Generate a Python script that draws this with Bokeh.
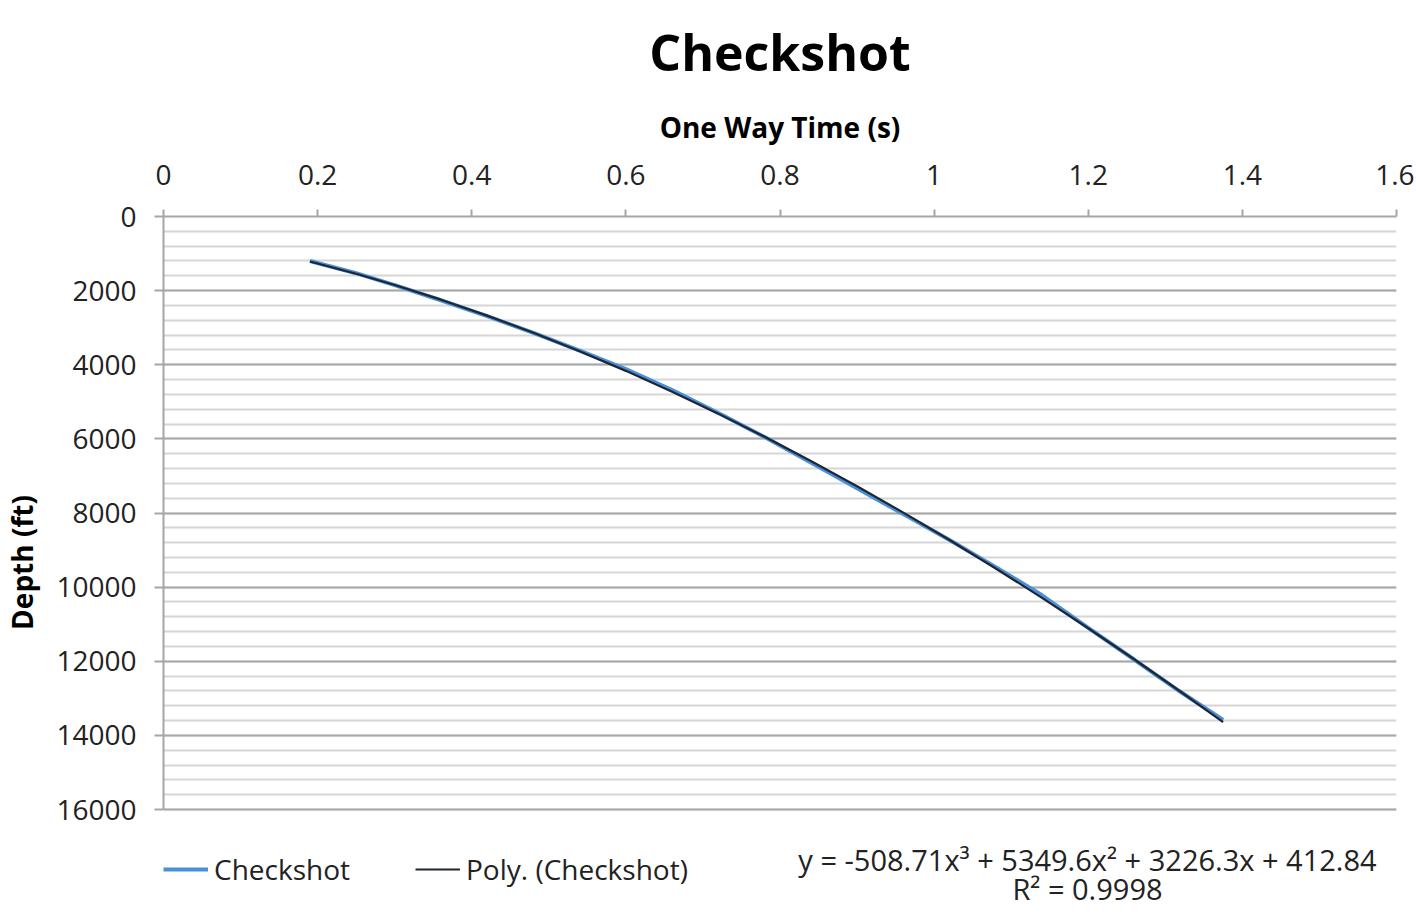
from bokeh.plotting import figure
from bokeh.models import Range1d, SingleIntervalTicker, Legend, LegendItem, Label
from bokeh.embed import file_html
from bokeh.resources import INLINE

# ---- data ----
checkshot_time = [0.19, 0.25, 0.30, 0.36, 0.42, 0.48, 0.54, 0.60, 0.66, 0.72, 0.78,
                  0.84, 0.90, 0.96, 1.02, 1.08, 1.14, 1.20, 1.26, 1.32, 1.375]
checkshot_depth = [1200, 1530, 1850, 2260, 2690, 3140, 3620, 4120, 4680, 5300, 5950,
                   6640, 7330, 8030, 8730, 9460, 10220, 11100, 11960, 12830, 13580]

poly_time = [0.19, 0.25, 0.30, 0.36, 0.42, 0.48, 0.54, 0.60, 0.66, 0.72, 0.78,
             0.84, 0.90, 0.96, 1.02, 1.08, 1.14, 1.20, 1.26, 1.32, 1.375]
poly_depth = [1215, 1546, 1849, 2244, 2674, 3138, 3635, 4165, 4726, 5319, 5943,
              6596, 7279, 7990, 8730, 9496, 10290, 11109, 11953, 12823, 13640]

x_ticks = [0, 0.2, 0.4, 0.6, 0.8, 1.0, 1.2, 1.4, 1.6]
depth_max = 16000
equation_text = "y = -508.71x\u00b3 + 5349.6x\u00b2 + 3226.3x + 412.84"
r2_text = "R\u00b2 = 0.9998"

FONT = "Open Sans"

# the frame extends below depth 16000 so that the legend and the
# trendline equation (which sit under the plot area) are not clipped
p = figure(width=1400, frame_width=1233, frame_height=692,
           x_range=Range1d(0, 1.6), y_range=Range1d(18671, 0),
           x_axis_location="above", output_backend="svg", toolbar_location=None,
           min_border_left=149, min_border_right=18, min_border_bottom=0,
           min_border_top=0)
p.outline_line_color = None
p.background_fill_color = "white"
p.border_fill_color = "white"

# title
p.title.text = "Checkshot"
p.title.align = "center"
p.title.vertical_align = "top"
p.title.text_font = FONT
p.title.text_font_size = "50px"
p.title.text_font_style = "bold"
p.title.text_color = "black"
p.title.standoff = 34

# x axis (top)
xa = p.xaxis[0]
xa.ticker = x_ticks
xa.axis_label = "One Way Time (s)"
xa.axis_label_text_font = FONT
xa.axis_label_text_font_size = "28px"
xa.axis_label_text_font_style = "bold"
xa.axis_label_text_color = "black"
xa.axis_label_standoff = 16
xa.major_label_text_font = FONT
xa.major_label_text_font_size = "28px"
xa.major_label_text_color = "#222222"
xa.major_label_standoff = 25
xa.axis_line_color = "#a6a6a6"
xa.axis_line_width = 2
xa.major_tick_line_color = "#a6a6a6"
xa.major_tick_line_width = 2
xa.major_tick_out = 7
xa.major_tick_in = 0
xa.minor_tick_line_color = None

# y axis (left)
ya = p.yaxis[0]
ya.ticker = SingleIntervalTicker(interval=2000, num_minor_ticks=5)
ya.bounds = (0, depth_max)
ya.axis_label = "Depth (ft)"
ya.axis_label_text_font = FONT
ya.axis_label_text_font_size = "28px"
ya.axis_label_text_font_style = "bold"
ya.axis_label_text_color = "black"
ya.axis_label_standoff = 12
ya.major_label_text_font = FONT
ya.major_label_text_font_size = "28px"
ya.major_label_text_color = "#222222"
ya.major_label_standoff = 18
ya.axis_line_color = "#a6a6a6"
ya.axis_line_width = 2
ya.major_tick_line_color = "#a6a6a6"
ya.major_tick_line_width = 2
ya.major_tick_out = 9
ya.major_tick_in = 0
ya.minor_tick_line_color = None

# grid
p.xgrid.grid_line_color = None
p.ygrid.bounds = (0, depth_max)
p.ygrid.grid_line_color = "#a9a9a9"
p.ygrid.grid_line_width = 2
p.ygrid.minor_grid_line_color = "#d6d6d6"
p.ygrid.minor_grid_line_width = 2

# lines
r_cs = p.line(checkshot_time, checkshot_depth, line_color="#4a8fd9", line_width=4)
r_poly = p.line(poly_time, poly_depth, line_color="#1e2633", line_width=2.2)

legend = Legend(items=[LegendItem(label="Checkshot", renderers=[r_cs]),
                       LegendItem(label="Poly. (Checkshot)", renderers=[r_poly])],
                orientation="horizontal", location=(0, 20),
                label_text_font=FONT, label_text_font_size="28px",
                label_text_color="#222222",
                glyph_width=45, label_standoff=6, spacing=65,
                padding=0, margin=0, border_line_color=None,
                background_fill_alpha=0)
p.add_layout(legend, "center")

eq = Label(x=1.199, y=17349, text=equation_text, text_align="center",
           text_baseline="middle", text_font=FONT, text_font_size="29px",
           text_color="#222222")
r2 = Label(x=1.199, y=18132, text=r2_text, text_align="center",
           text_baseline="middle", text_font=FONT, text_font_size="29px",
           text_color="#222222")
p.add_layout(eq)
p.add_layout(r2)

open("out.html", "w").write(file_html(p, INLINE))
